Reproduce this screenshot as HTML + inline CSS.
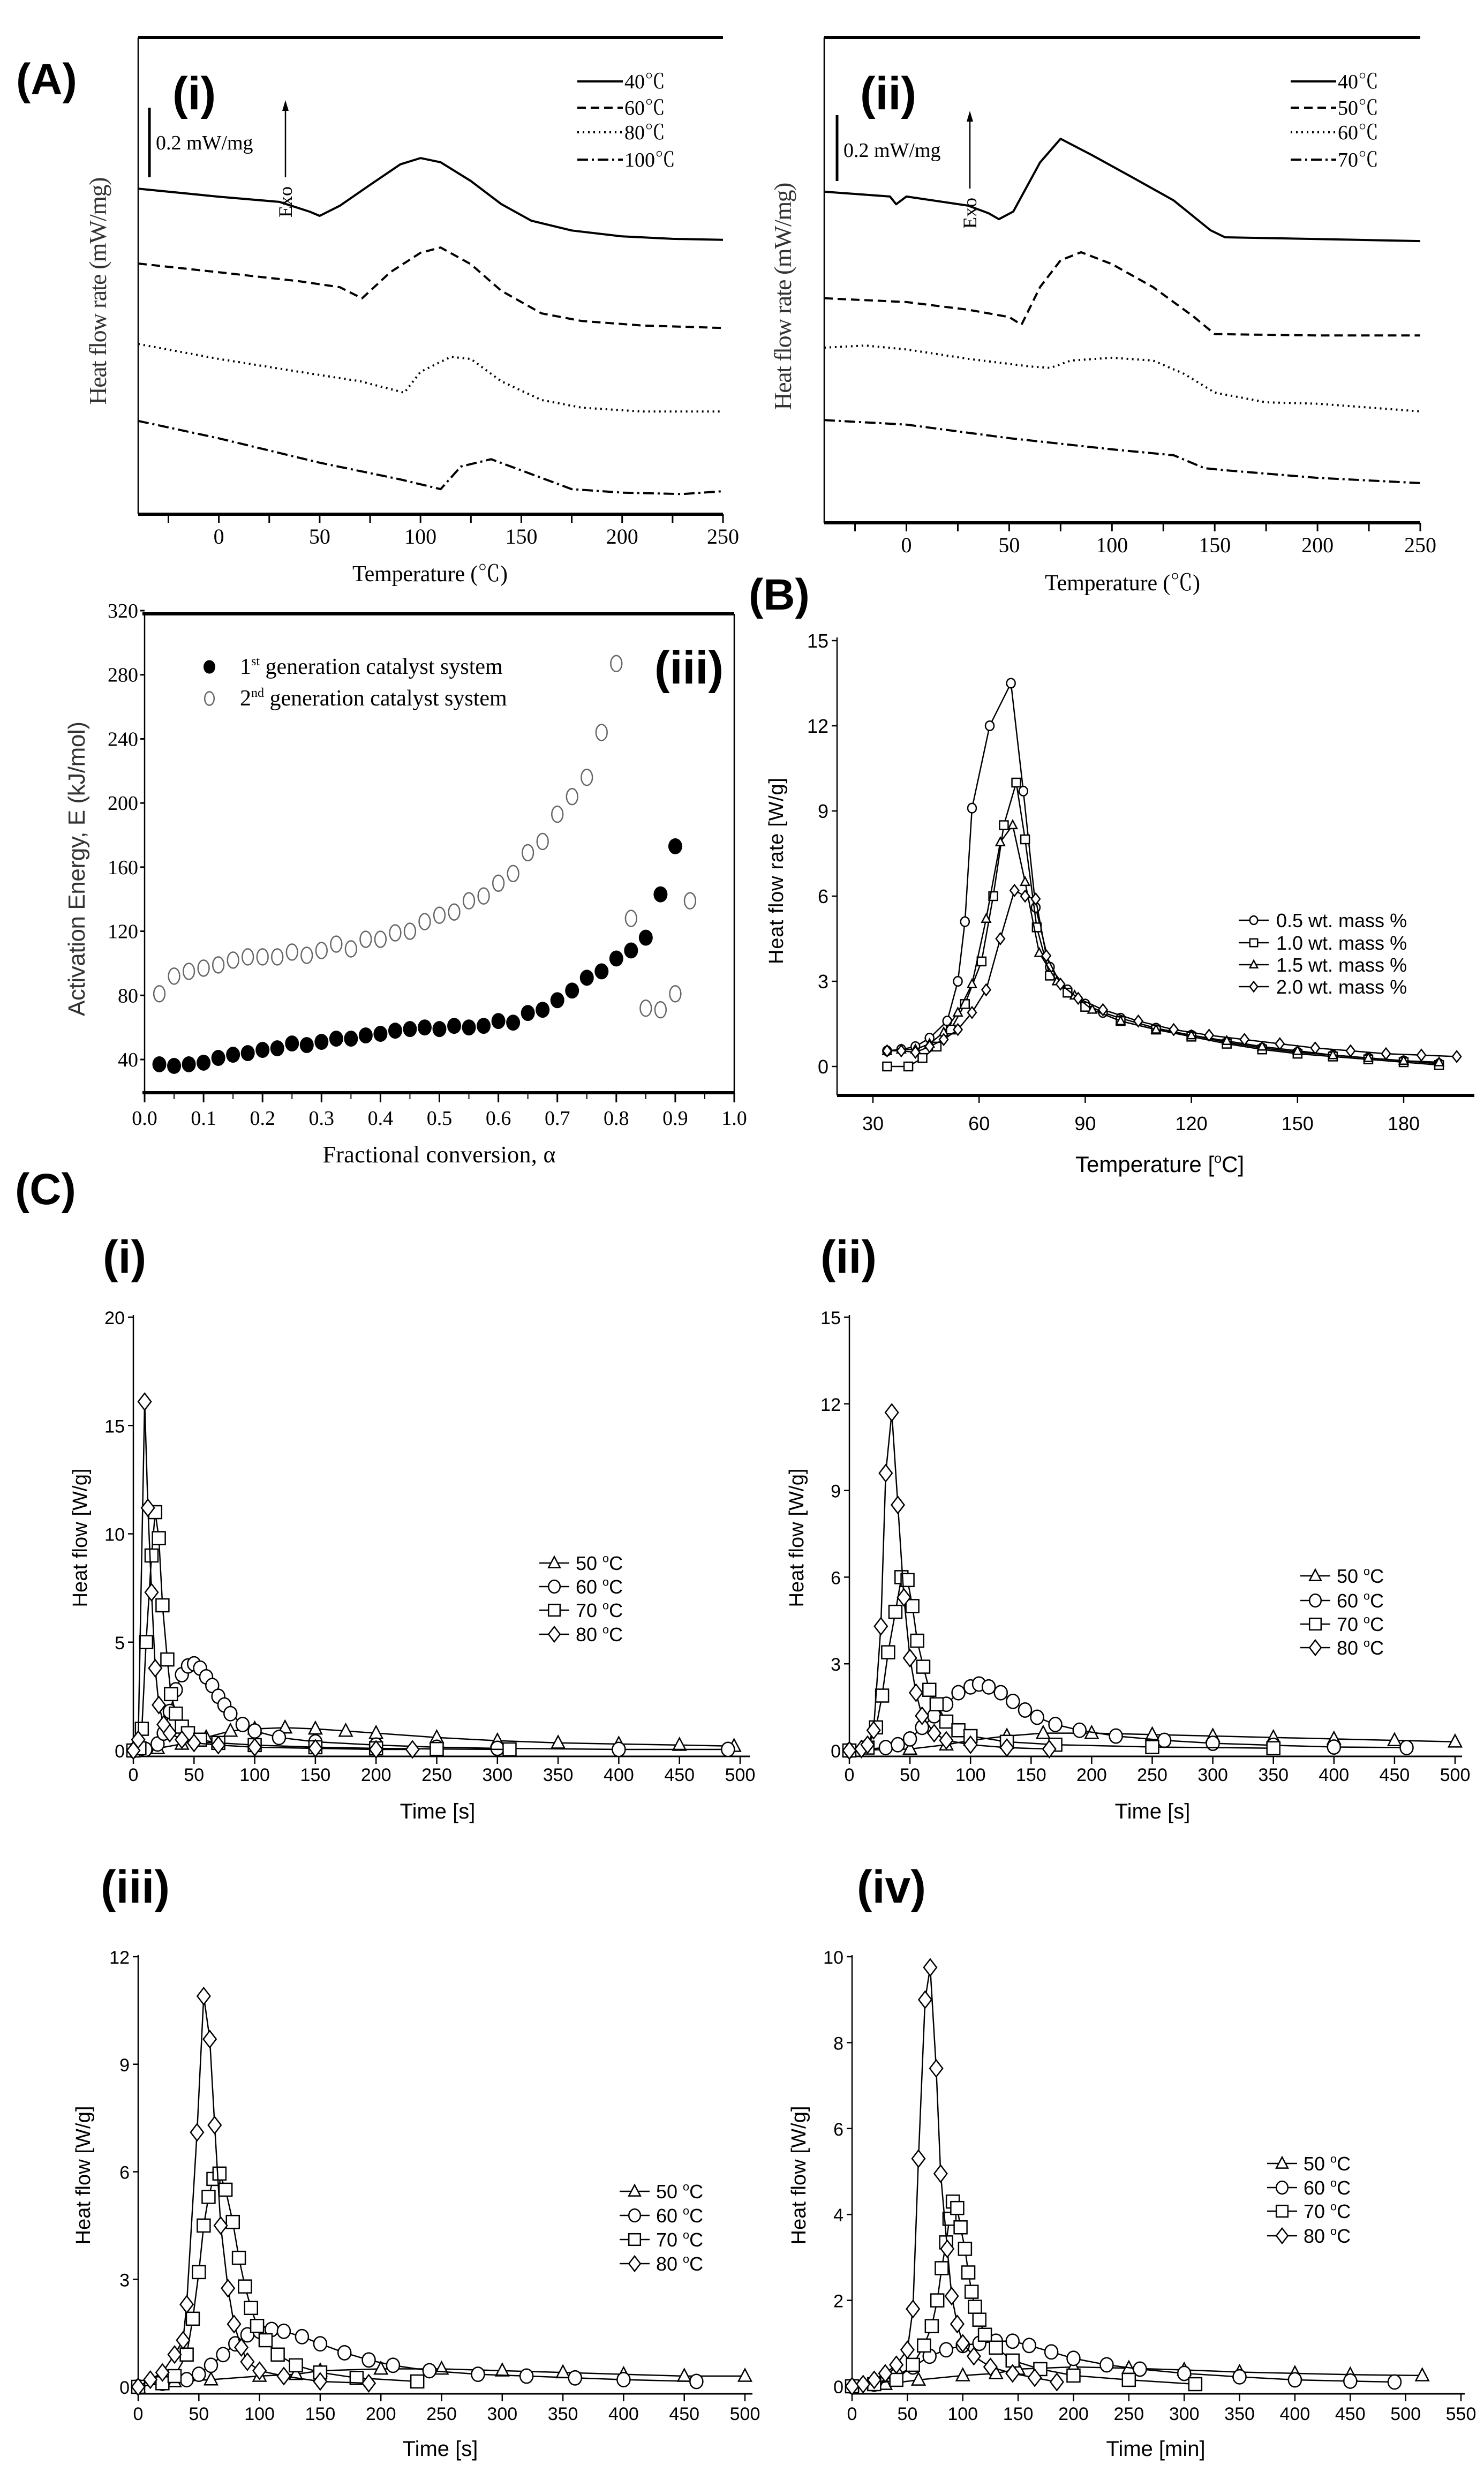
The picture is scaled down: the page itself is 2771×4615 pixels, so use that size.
<!DOCTYPE html>
<html><head><meta charset="utf-8"><title>DSC kinetics figure</title>
<style>
html,body{margin:0;padding:0;background:#fff;}
svg{display:block;}
.serif{font-family:"Liberation Serif","Noto Serif CJK SC",serif;}
.sans{font-family:"Liberation Sans","Noto Sans CJK SC",sans-serif;}
</style></head>
<body>
<svg id="fig" xmlns="http://www.w3.org/2000/svg" width="2771" height="4615" viewBox="0 0 2771 4615"></svg>
<script>
// ===== Panel A(i) data: [temperature °C, heat flow offset mW/mg] =====
const aiT40 = [[-40,0.935],[0,0.912],[30,0.897],[45,0.869],[50,0.857],[60,0.886],[75,0.946],[90,1.005],[100,1.023],[110,1.011],[125,0.957],[140,0.891],[155,0.843],[175,0.815],[200,0.798],[225,0.791],[250,0.788]];
const aiT60 = [[-40,0.72],[0,0.695],[40,0.669],[60,0.652],[71,0.62],[85,0.695],[100,0.751],[110,0.766],[125,0.718],[140,0.642],[160,0.577],[180,0.555],[210,0.542],[250,0.535]];
const aiT80 = [[-40,0.489],[0,0.446],[40,0.409],[70,0.382],[92,0.349],[100,0.409],[115,0.452],[125,0.446],[140,0.382],[160,0.328],[180,0.306],[210,0.295],[250,0.295]];
const aiT100 = [[-40,0.268],[0,0.218],[50,0.148],[90,0.1],[110,0.072],[120,0.137],[135,0.158],[150,0.126],[175,0.072],[200,0.062],[230,0.058],[250,0.066]];
// ===== Panel A(ii) data =====
const aiiT40 = [[-40,0.951],[-8,0.937],[-5,0.915],[0,0.937],[30,0.911],[40,0.889],[45,0.872],[52,0.894],[65,1.035],[75,1.103],[90,1.057],[110,0.992],[130,0.926],[148,0.84],[155,0.82],[200,0.815],[250,0.809]];
const aiiT50 = [[-40,0.645],[0,0.634],[30,0.612],[50,0.591],[56,0.569],[65,0.677],[75,0.754],[85,0.777],[100,0.743],[120,0.677],[140,0.591],[150,0.542],[200,0.538],[250,0.538]];
const aiiT60 = [[-40,0.503],[-20,0.509],[0,0.498],[30,0.471],[60,0.449],[70,0.445],[80,0.466],[100,0.474],[120,0.466],[135,0.428],[150,0.374],[175,0.346],[200,0.342],[250,0.32]];
const aiiT70 = [[-40,0.295],[0,0.282],[50,0.243],[100,0.211],[130,0.194],[145,0.157],[155,0.151],[200,0.129],[250,0.114]];
// ===== Panel A(iii) data =====
const alphaGen1 = [0.025,0.05,0.075,0.1,0.125,0.15,0.175,0.2,0.225,0.25,0.275,0.3,0.325,0.35,0.375,0.4,0.425,0.45,0.475,0.5,0.525,0.55,0.575,0.6,0.625,0.65,0.675,0.7,0.725,0.75,0.775,0.8,0.825,0.85,0.875,0.9];
const energyGen1 = [37,36,37,38,41,43,44,46,47,50,49,51,53,53,55,56,58,59,60,59,61,60,61,64,63,69,71,77,83,91,95,103,108,116,143,173];
const alphaGen2 = [0.025,0.05,0.075,0.1,0.125,0.15,0.175,0.2,0.225,0.25,0.275,0.3,0.325,0.35,0.375,0.4,0.425,0.45,0.475,0.5,0.525,0.55,0.575,0.6,0.625,0.65,0.675,0.7,0.725,0.75,0.775,0.8,0.825,0.85,0.875,0.9,0.925];
const energyGen2 = [81,92,95,97,99,102,104,104,104,107,105,108,112,109,115,115,119,120,126,130,132,139,142,150,156,169,176,193,204,216,244,287,128,72,71,81,139];
const aiiiXTicks = ["0.0","0.1","0.2","0.3","0.4","0.5","0.6","0.7","0.8","0.9","1.0"];
const aiiiYTicks = [40,80,120,160,200,240,280,320];
// ===== Panel B data: [T °C, W/g] =====
const b05 = [[34,0.55],[38,0.6],[42,0.7],[46,1.0],[51,1.6],[54,3.0],[56,5.1],[58,9.1],[63,12.0],[69,13.5],[72.5,9.7],[76,5.6],[80,3.5],[85,2.7],[90,2.2],[95,1.9],[100,1.7],[110,1.35],[120,1.1],[130,0.85],[140,0.65],[150,0.5],[160,0.4],[170,0.3],[180,0.2],[190,0.1]];
const b10 = [[34,0],[40,0],[44,0.3],[48,0.7],[52,1.3],[56,2.2],[60.7,3.7],[64,6.0],[67,8.5],[70.5,10.0],[73,8.0],[76.3,4.9],[80,3.2],[85,2.6],[90,2.1],[100,1.6],[110,1.3],[120,1.05],[130,0.8],[140,0.6],[150,0.45],[160,0.35],[170,0.25],[180,0.15],[190,0.05]];
const b15 = [[34,0.55],[38,0.6],[42,0.6],[46,0.8],[50,1.2],[54,1.9],[58,2.9],[62,5.2],[66,7.9],[69.5,8.5],[73,6.5],[77,4.0],[82,3.0],[87,2.5],[92,2.0],[100,1.6],[110,1.3],[120,1.1],[130,0.9],[140,0.7],[150,0.55],[160,0.4],[170,0.3],[180,0.2],[190,0.15]];
const b20 = [[34,0.55],[38,0.55],[42,0.5],[46,0.7],[50,0.95],[54,1.3],[58,1.9],[62,2.7],[66,4.5],[70,6.2],[73,6.0],[76,5.9],[79,3.9],[83,2.9],[88,2.4],[95,2.0],[105,1.6],[115,1.3],[125,1.1],[135,0.95],[145,0.8],[155,0.65],[165,0.55],[175,0.45],[185,0.4],[195,0.35]];
const bXTicks = [30,60,90,120,150,180];
const bYTicks = [0,3,6,9,12,15];
// ===== Panel C(i) data: [time s, W/g] =====
const ci50 = [[0,0],[20,0.1],[40,0.3],[60,0.6],[80,0.9],[100,1.0],[125,1.05],[150,1.0],[175,0.9],[200,0.8],[250,0.6],[300,0.45],[350,0.35],[400,0.3],[450,0.25],[495,0.2]];
const ci60 = [[0,0],[10,0.05],[20,0.3],[25,0.8],[30,1.8],[35,2.8],[40,3.5],[45,3.9],[50,4.0],[55,3.8],[60,3.4],[65,3.0],[70,2.5],[75,2.1],[80,1.7],[90,1.2],[100,0.9],[120,0.6],[150,0.4],[200,0.25],[250,0.15],[300,0.1],[400,0.05],[490,0.05]];
const ci70 = [[0,0],[5,0.1],[7,1.0],[10.5,5.0],[15,9.0],[18,11.0],[21,9.8],[24,6.7],[28,4.2],[31,2.6],[35,1.7],[40,1.1],[45,0.8],[55,0.5],[70,0.35],[100,0.25],[150,0.15],[200,0.1],[250,0.07],[310,0.05]];
const ci80 = [[0,0],[4,0.5],[9.3,16.1],[12,11.2],[15,7.3],[18,3.8],[21,2.1],[25,1.2],[30,0.8],[40,0.5],[50,0.35],[70,0.25],[100,0.15],[150,0.1],[200,0.05],[230,0.05]];
const ciYTicks = [0,5,10,15,20];
// ===== Panel C(ii) data =====
const cii50 = [[0,0],[50,0.05],[80,0.2],[100,0.35],[130,0.5],[160,0.6],[200,0.6],[250,0.55],[300,0.5],[350,0.45],[400,0.4],[450,0.35],[500,0.3]];
const cii60 = [[0,0],[30,0.1],[40,0.2],[50,0.4],[60,0.8],[70,1.2],[80,1.6],[90,2.0],[100,2.2],[107,2.3],[115,2.2],[125,2.0],[135,1.7],[145,1.4],[155,1.15],[170,0.9],[190,0.7],[220,0.5],[260,0.35],[300,0.25],[350,0.18],[400,0.12],[460,0.1]];
const cii70 = [[0,0],[15,0.1],[22,0.8],[27,1.9],[32,3.4],[38,4.8],[43,6.0],[48,5.9],[52,5.0],[56,3.8],[61,2.9],[66,2.1],[72,1.6],[80,1.0],[90,0.7],[100,0.5],[130,0.3],[170,0.2],[250,0.12],[350,0.08]];
const cii80 = [[0,0],[10,0.05],[15,0.2],[20,0.7],[26,4.3],[30,9.6],[35,11.7],[40,8.5],[45,5.3],[50,3.2],[55,2.0],[60,1.2],[70,0.6],[80,0.35],[100,0.2],[130,0.1],[165,0.05]];
const ciiYTicks = [0,3,6,9,12,15];
// ===== Panel C(iii) data =====
const ciii50 = [[0,0],[30,0.15],[60,0.2],[100,0.3],[130,0.35],[150,0.45],[200,0.5],[250,0.5],[300,0.45],[350,0.4],[400,0.35],[450,0.3],[500,0.3]];
const ciii60 = [[0,0],[20,0.1],[40,0.2],[50,0.35],[60,0.6],[70,0.9],[80,1.2],[90,1.45],[100,1.55],[110,1.6],[120,1.55],[135,1.4],[150,1.2],[170,0.95],[190,0.75],[210,0.6],[240,0.45],[280,0.35],[320,0.3],[360,0.25],[400,0.2],[460,0.15]];
const ciii70 = [[0,0],[20,0.1],[30,0.3],[40,0.9],[45,1.9],[50,3.2],[54,4.5],[58,5.3],[62,5.8],[67,5.95],[72,5.5],[78,4.6],[83,3.6],[88,2.8],[93,2.2],[98,1.7],[105,1.3],[115,0.9],[130,0.6],[150,0.4],[180,0.25],[230,0.15]];
const ciii80 = [[0,0],[10,0.2],[20,0.4],[30,0.9],[37,1.3],[40,2.3],[48.5,7.1],[54,10.9],[59,9.7],[63,7.3],[68,4.5],[74,2.75],[79,1.75],[85,1.1],[90,0.7],[100,0.45],[120,0.3],[150,0.15],[190,0.1]];
const ciiiYTicks = [0,3,6,9,12];
// ===== Panel C(iv) data =====
const civ50 = [[0,0],[30,0.05],[60,0.15],[100,0.25],[130,0.3],[150,0.4],[200,0.45],[250,0.42],[300,0.38],[350,0.33],[400,0.3],[450,0.27],[515,0.25]];
const civ60 = [[0,0],[20,0.05],[40,0.25],[55,0.45],[70,0.7],[85,0.85],[100,0.95],[115,1.0],[130,1.05],[145,1.05],[160,0.95],[180,0.8],[200,0.65],[230,0.5],[260,0.4],[300,0.3],[350,0.22],[400,0.15],[450,0.12],[490,0.1]];
const civ70 = [[0,0],[20,0.05],[40,0.15],[55,0.5],[65,0.95],[72,1.4],[77,2.0],[81,2.75],[85,3.35],[88,3.9],[91,4.3],[95,4.15],[98,3.7],[102,3.2],[105,2.65],[108,2.2],[111,1.85],[115,1.55],[120,1.2],[130,0.9],[145,0.6],[170,0.4],[200,0.25],[250,0.15],[310,0.05]];
const civ80 = [[0,0],[10,0.05],[20,0.15],[30,0.3],[40,0.5],[50,0.85],[55,1.8],[60,5.3],[66,9.0],[70.6,9.75],[76,7.4],[80,4.95],[86,3.2],[90,2.1],[95,1.45],[100,1.0],[110,0.7],[125,0.45],[145,0.3],[165,0.2],[185,0.1]];
const civYTicks = [0,2,4,6,8,10];
const cTimeTicks = [0,50,100,150,200,250,300,350,400,450,500];
const civTimeTicks = [0,50,100,150,200,250,300,350,400,450,500,550];
const aTempTicks = [0,50,100,150,200,250];

const NS = 'http://www.w3.org/2000/svg';
const svg = document.getElementById('fig');
function mk(tag, attrs, name, parent) {
  const e = document.createElementNS(NS, tag);
  for (const k in attrs) e.setAttribute(k, attrs[k]);
  
  
  (parent || svg).appendChild(e);
  return e;
}
function scale(d0, d1, r0, r1) { return v => r0 + (v - d0) * (r1 - r0) / (d1 - d0); }
function txt(x, y, s, size, cls, anchor, name, parent, extra) {
  const t = mk('text', Object.assign({x: x, y: y, 'font-size': size, 'class': cls, 'text-anchor': anchor || 'start', fill: '#000'}, extra || {}), name, parent);
  t.textContent = s;
  return t;
}
function line(x1, y1, x2, y2, w, name, parent) {
  return mk('line', {x1: x1, y1: y1, x2: x2, y2: y2, stroke: '#000', 'stroke-width': w}, name, parent);
}
function marker(g, type, x, y, s, name) {
  const st = {fill: '#fff', stroke: '#000', 'stroke-width': 2.5};
  if (type === 'circle') return mk('ellipse', Object.assign({cx: x, cy: y, rx: s, ry: s * 1.1}, st), name, g);
  if (type === 'dot') return mk('ellipse', Object.assign({cx: x, cy: y, rx: s, ry: s * 1.1}, st), name, g);
  if (type === 'fcircle') return mk('ellipse', {cx: x, cy: y, rx: s, ry: s * 1.15, fill: '#000'}, name, g);
  if (type === 'ocircle') return mk('ellipse', {cx: x, cy: y, rx: s * 0.8, ry: s * 1.15, fill: 'none', stroke: '#666', 'stroke-width': 2.5}, name, g);
  if (type === 'square') return mk('rect', Object.assign({x: x - s, y: y - s, width: 2 * s, height: 2 * s}, st), name, g);
  if (type === 'tri') return mk('polygon', Object.assign({points: `${x},${y - s * 1.1} ${x + s},${y + s * 0.8} ${x - s},${y + s * 0.8}`}, st), name, g);
  if (type === 'diamond') return mk('polygon', Object.assign({points: `${x},${y - s * 1.3} ${x + s},${y} ${x},${y + s * 1.3} ${x - s},${y}`}, st), name, g);
}
function curve(g, data, xs, ys, dash, w, name) {
  const pts = data.map(p => xs(p[0]).toFixed(1) + ',' + ys(p[1]).toFixed(1)).join(' ');
  const a = {points: pts, fill: 'none', stroke: '#000', 'stroke-width': w, 'stroke-linejoin': 'round'};
  if (dash) a['stroke-dasharray'] = dash;
  return mk('polyline', a, name, g);
}
function markedSeries(g, data, xs, ys, type, s, name) {
  curve(g, data, xs, ys, null, 2.5, name + '-line');
  data.forEach(p => marker(g, type, xs(p[0]), ys(p[1]), s, name + '-marker'));
}

// ---------- Panel labels ----------
const big = {'font-weight': 'bold'};
txt(30, 176, '(A)', 82, 'sans', 'start', 'panel-label-a', null, big);
txt(1398, 1138, '(B)', 82, 'sans', 'start', 'panel-label-b', null, big);
txt(28, 2248, '(C)', 82, 'sans', 'start', 'panel-label-c', null, big);
txt(322, 204, '(i)', 86, 'sans', 'start', 'panel-label-a-i', null, big);
txt(1606, 204, '(ii)', 86, 'sans', 'start', 'panel-label-a-ii', null, big);
txt(1222, 1276, '(iii)', 86, 'sans', 'start', 'panel-label-a-iii', null, big);
txt(192, 2376, '(i)', 86, 'sans', 'start', 'panel-label-c-i', null, big);
txt(1532, 2376, '(ii)', 86, 'sans', 'start', 'panel-label-c-ii', null, big);
txt(188, 3552, '(iii)', 86, 'sans', 'start', 'panel-label-c-iii', null, big);
txt(1600, 3552, '(iv)', 86, 'sans', 'start', 'panel-label-c-iv', null, big);

// ---------- Panel A(i)/(ii) DSC ----------
function dscPanel(cfg) {
  const g = mk('g', {}, cfg.name);
  const xs = scale(-40, 250, cfg.x0, cfg.x1);
  const ys = scale(0, 1, cfg.yb, cfg.yb - 650);
  line(cfg.x0, cfg.yt, cfg.x1, cfg.yt, 6, 'frame-top', g);
  line(cfg.x0, cfg.yb, cfg.x1, cfg.yb, 6, 'x-axis', g);
  line(cfg.x0, cfg.yt, cfg.x0, cfg.yb, 2.5, 'y-axis', g);
  for (let t = -25; t <= 250; t += 25) line(xs(t), cfg.yb, xs(t), cfg.yb + 16, 3, 'x-tick', g);
  aTempTicks.forEach(t => txt(xs(t), cfg.yb + 55, String(t), 40, 'serif', 'middle', 'x-tick-label', g));
  txt(cfg.titleX, cfg.titleY, 'Temperature (℃)', 42, 'serif', 'middle', 'x-axis-title', g, {textLength: 290});
  const yt = txt(0, 0, 'Heat flow rate (mW/mg)', 46, 'serif', 'middle', 'y-axis-title', g, {transform: `translate(${cfg.ytX},${cfg.ytY}) rotate(-90)`, textLength: 425, fill: '#333'});
  // scale bar
  line(cfg.barX, cfg.barY0, cfg.barX, cfg.barY1, 5, 'scale-bar', g);
  txt(cfg.barX + 12, cfg.barY0 + 78, '0.2 mW/mg', 38, 'serif', 'start', 'scale-bar-label', g);
  // exo arrow
  line(cfg.exoX, cfg.exoY0, cfg.exoX, cfg.exoY1 - 30, 2.5, 'exo-arrow', g);
  mk('polygon', {points: `${cfg.exoX},${cfg.exoY1 - 48} ${cfg.exoX - 6},${cfg.exoY1 - 28} ${cfg.exoX + 6},${cfg.exoY1 - 28}`, fill: '#000'}, 'exo-arrowhead', g);
  txt(0, 0, 'Exo', 36, 'serif', 'start', 'exo-label', g, {transform: `translate(${cfg.exoX + 12},${cfg.exoY0 + 75}) rotate(-90)`});
  const dashes = [null, '16 9', '3 7', '20 7 4 7'];
  cfg.series.forEach((s, i) => {
    curve(g, s, xs, ys, dashes[i], 4, 'curve-' + cfg.labels[i]);
    const ly = cfg.legY[i];
    const lg = mk('g', {}, 'legend-entry', g);
    const l = line(cfg.legX, ly, cfg.legX + 85, ly, 4, 'legend-line', lg);
    if (dashes[i]) l.setAttribute('stroke-dasharray', dashes[i]);
    txt(cfg.legX + 88, ly + 13, cfg.labels[i], 38, 'serif', 'start', 'legend-label', lg);
  });
}
dscPanel({name: 'panel-a-i', x0: 258, x1: 1350, yt: 70, yb: 960, titleX: 803, titleY: 1085, ytX: 198, ytY: 543,
  barX: 279, barY0: 201, barY1: 331, exoX: 533, exoY0: 331, exoY1: 235,
  series: [aiT40, aiT60, aiT80, aiT100], labels: ['40℃', '60℃', '80℃', '100℃'], legX: 1078, legY: [152, 201, 247, 298]});
dscPanel({name: 'panel-a-ii', x0: 1539, x1: 2652, yt: 70, yb: 976, titleX: 2096, titleY: 1102, ytX: 1477, ytY: 553,
  barX: 1563, barY0: 215, barY1: 338, exoX: 1811, exoY0: 352, exoY1: 255,
  series: [aiiT40, aiiT50, aiiT60, aiiT70], labels: ['40℃', '50℃', '60℃', '70℃'], legX: 2410, legY: [152, 201, 247, 298]});

// ---------- Panel A(iii) ----------
(function () {
  const g = mk('g', {}, 'panel-a-iii');
  const xs = scale(0, 1, 270, 1371);
  const ys = scale(40, 320, 1978, 1140);
  line(266, 1146, 1371, 1146, 6, 'frame-top', g);
  line(266, 2040, 1371, 2040, 6, 'x-axis', g);
  line(270, 1146, 270, 2040, 2.5, 'y-axis', g);
  line(1371, 1146, 1371, 2040, 2.5, 'frame-right', g);
  aiiiXTicks.forEach((t, i) => {
    const v = parseFloat(t);
    line(xs(v), 2040, xs(v), 2058, 3, 'x-tick', g);
    txt(xs(v), 2100, t, 38, 'serif', 'middle', 'x-tick-label', g);
    if (i < 10) line(xs(v + 0.05), 2040, xs(v + 0.05), 2052, 2, 'x-minor-tick', g);
  });
  aiiiYTicks.forEach(t => {
    line(262, ys(t), 270, ys(t), 3, 'y-tick', g);
    txt(258, ys(t) + 13, String(t), 38, 'serif', 'end', 'y-tick-label', g);
  });
  txt(820, 2170, 'Fractional conversion, α', 44, 'serif', 'middle', 'x-axis-title', g, {textLength: 435});
  txt(0, 0, 'Activation Energy, E (kJ/mol)', 44, 'sans', 'middle', 'y-axis-title', g, {transform: 'translate(158,1622) rotate(-90)', textLength: 550, fill: '#333'});
  alphaGen2.forEach((a, i) => marker(g, 'ocircle', xs(a), ys(energyGen2[i]), 13, 'gen2-point'));
  alphaGen1.forEach((a, i) => marker(g, 'fcircle', xs(a), ys(energyGen1[i]), 13, 'gen1-point'));
  const l1 = mk('g', {}, 'legend-entry-gen1', g);
  marker(l1, 'fcircle', 391, 1245, 11, 'legend-marker');
  const t1 = txt(448, 1258, '1', 42, 'serif', 'start', 'legend-label', l1);
  const s1 = document.createElementNS(NS, 'tspan'); s1.setAttribute('dy', '-16'); s1.setAttribute('font-size', '24'); s1.textContent = 'st'; t1.appendChild(s1);
  const r1 = document.createElementNS(NS, 'tspan'); r1.setAttribute('dy', '16'); r1.textContent = ' generation catalyst system'; t1.appendChild(r1);
  const l2 = mk('g', {}, 'legend-entry-gen2', g);
  marker(l2, 'ocircle', 391, 1304, 11, 'legend-marker');
  const t2 = txt(448, 1317, '2', 42, 'serif', 'start', 'legend-label', l2);
  const s2 = document.createElementNS(NS, 'tspan'); s2.setAttribute('dy', '-16'); s2.setAttribute('font-size', '24'); s2.textContent = 'nd'; t2.appendChild(s2);
  const r2 = document.createElementNS(NS, 'tspan'); r2.setAttribute('dy', '16'); r2.textContent = ' generation catalyst system'; t2.appendChild(r2);
})();

// ---------- generic marked panel (B and C) ----------
function degLabel(parent, x, y, pre, post, size, name) {
  const t = txt(x, y, pre, size, 'sans', 'start', name, parent);
  const s = document.createElementNS(NS, 'tspan'); s.setAttribute('dy', -size * 0.4); s.setAttribute('font-size', size * 0.6); s.textContent = 'o'; t.appendChild(s);
  const r = document.createElementNS(NS, 'tspan'); r.setAttribute('dy', size * 0.4); r.textContent = post; t.appendChild(r);
  return t;
}
function markedPanel(cfg) {
  const g = mk('g', {}, cfg.name);
  const xs = scale(cfg.xd[0], cfg.xd[1], cfg.xr[0], cfg.xr[1]);
  const ys = scale(cfg.yd[0], cfg.yd[1], cfg.yr[0], cfg.yr[1]);
  line(cfg.axisX, cfg.axisTop, cfg.axisX, cfg.axisY, 2.5, 'y-axis', g);
  line(cfg.axisX, cfg.axisY, cfg.axisRight, cfg.axisY, cfg.bottomW, 'x-axis', g);
  cfg.xticks.forEach(t => {
    line(xs(t), cfg.axisY, xs(t), cfg.axisY + 14, 2.5, 'x-tick', g);
    txt(xs(t), cfg.xLabY, String(t), cfg.fs, 'sans', 'middle', 'x-tick-label', g);
  });
  cfg.yticks.forEach(t => {
    line(cfg.axisX - 10, ys(t), cfg.axisX, ys(t), 2.5, 'y-tick', g);
    txt(cfg.axisX - 16, ys(t) + 13, String(t), cfg.fs, 'sans', 'end', 'y-tick-label', g);
  });
  if (cfg.xTitleDeg) {
    degLabel(g, cfg.xTitle[0] - 150, cfg.xTitle[1], 'Temperature [', 'C]', 42, 'x-axis-title');
  } else {
    txt(cfg.xTitle[0], cfg.xTitle[1], cfg.xTitleText, 40, 'sans', 'middle', 'x-axis-title', g);
  }
  txt(0, 0, cfg.yTitleText, 38, 'sans', 'middle', 'y-axis-title', g, {transform: `translate(${cfg.yTitle[0]},${cfg.yTitle[1]}) rotate(-90)`, textLength: cfg.yTitleLen, 'letter-spacing': 2});
  cfg.series.forEach((s, i) => markedSeries(g, s, xs, ys, cfg.types[i], cfg.ms, 'series-' + cfg.labels[i].replace(/[^0-9a-z]/gi, '')));
  cfg.labels.forEach((lab, i) => {
    const lg = mk('g', {}, 'legend-entry', g);
    const y = cfg.legY[i];
    line(cfg.legX - 28, y, cfg.legX + 28, y, 2.5, 'legend-line', lg);
    marker(lg, cfg.types[i], cfg.legX, y, cfg.ms * 0.9, 'legend-marker');
    if (cfg.legDeg) degLabel(lg, cfg.legX + 40, y + 13, lab + ' ', 'C', 36, 'legend-label');
    else txt(cfg.legX + 42, y + 13, lab, 36, 'sans', 'start', 'legend-label', lg);
  });
}
markedPanel({name: 'panel-b', xd: [30, 180], xr: [1630, 2621], yd: [0, 15], yr: [1991, 1196],
  axisX: 1563, axisTop: 1190, axisY: 2045, axisRight: 2753, bottomW: 6, xticks: bXTicks, yticks: bYTicks, fs: 36, xLabY: 2110,
  xTitleDeg: true, xTitle: [2158, 2188], yTitleText: 'Heat flow rate [W/g]', yTitle: [1462, 1625], yTitleLen: 350,
  series: [b05, b10, b15, b20], types: ['dot', 'square', 'tri', 'diamond'], ms: 8,
  labels: ['0.5 wt. mass %', '1.0 wt. mass %', '1.5 wt. mass %', '2.0 wt. mass %'], legX: 2341, legY: [1718, 1760, 1801, 1842], legDeg: false});
const cLabels = ['50', '60', '70', '80'];
const cTypes = ['tri', 'circle', 'square', 'diamond'];
markedPanel({name: 'panel-c-i', xd: [0, 500], xr: [249, 1382], yd: [0, 20], yr: [3268, 2459],
  axisX: 249, axisTop: 2455, axisY: 3279, axisRight: 1400, bottomW: 3, xticks: cTimeTicks, yticks: ciYTicks, fs: 34, xLabY: 3325,
  xTitleText: 'Time [s]', xTitle: [817, 3395], yTitleText: 'Heat flow [W/g]', yTitle: [162, 2870], yTitleLen: 261,
  series: [ci50, ci60, ci70, ci80], types: cTypes, ms: 12, labels: cLabels, legX: 1035, legY: [2918, 2962, 3006, 3051], legDeg: true});
markedPanel({name: 'panel-c-ii', xd: [0, 500], xr: [1586, 2717], yd: [0, 15], yr: [3268, 2459],
  axisX: 1586, axisTop: 2455, axisY: 3279, axisRight: 2730, bottomW: 3, xticks: cTimeTicks, yticks: ciiYTicks, fs: 34, xLabY: 3325,
  xTitleText: 'Time [s]', xTitle: [2152, 3395], yTitleText: 'Heat flow [W/g]', yTitle: [1500, 2870], yTitleLen: 261,
  series: [cii50, cii60, cii70, cii80], types: cTypes, ms: 12, labels: cLabels, legX: 2456, legY: [2942, 2988, 3032, 3076], legDeg: true});
markedPanel({name: 'panel-c-iii', xd: [0, 500], xr: [258, 1391], yd: [0, 12], yr: [4456, 3653],
  axisX: 258, axisTop: 3650, axisY: 4469, axisRight: 1405, bottomW: 3, xticks: cTimeTicks, yticks: ciiiYTicks, fs: 34, xLabY: 4518,
  xTitleText: 'Time [s]', xTitle: [822, 4585], yTitleText: 'Heat flow [W/g]', yTitle: [168, 4060], yTitleLen: 261,
  series: [ciii50, ciii60, ciii70, ciii80], types: cTypes, ms: 12, labels: cLabels, legX: 1185, legY: [4091, 4136, 4181, 4226], legDeg: true});
markedPanel({name: 'panel-c-iv', xd: [0, 550], xr: [1591, 2728], yd: [0, 10], yr: [4455, 3653],
  axisX: 1591, axisTop: 3650, axisY: 4469, axisRight: 2735, bottomW: 3, xticks: civTimeTicks, yticks: civYTicks, fs: 34, xLabY: 4518,
  xTitleText: 'Time [min]', xTitle: [2158, 4585], yTitleText: 'Heat flow [W/g]', yTitle: [1504, 4060], yTitleLen: 261,
  series: [civ50, civ60, civ70, civ80], types: cTypes, ms: 12, labels: cLabels, legX: 2394, legY: [4039, 4084, 4128, 4174], legDeg: true});
</script>
</body></html>
